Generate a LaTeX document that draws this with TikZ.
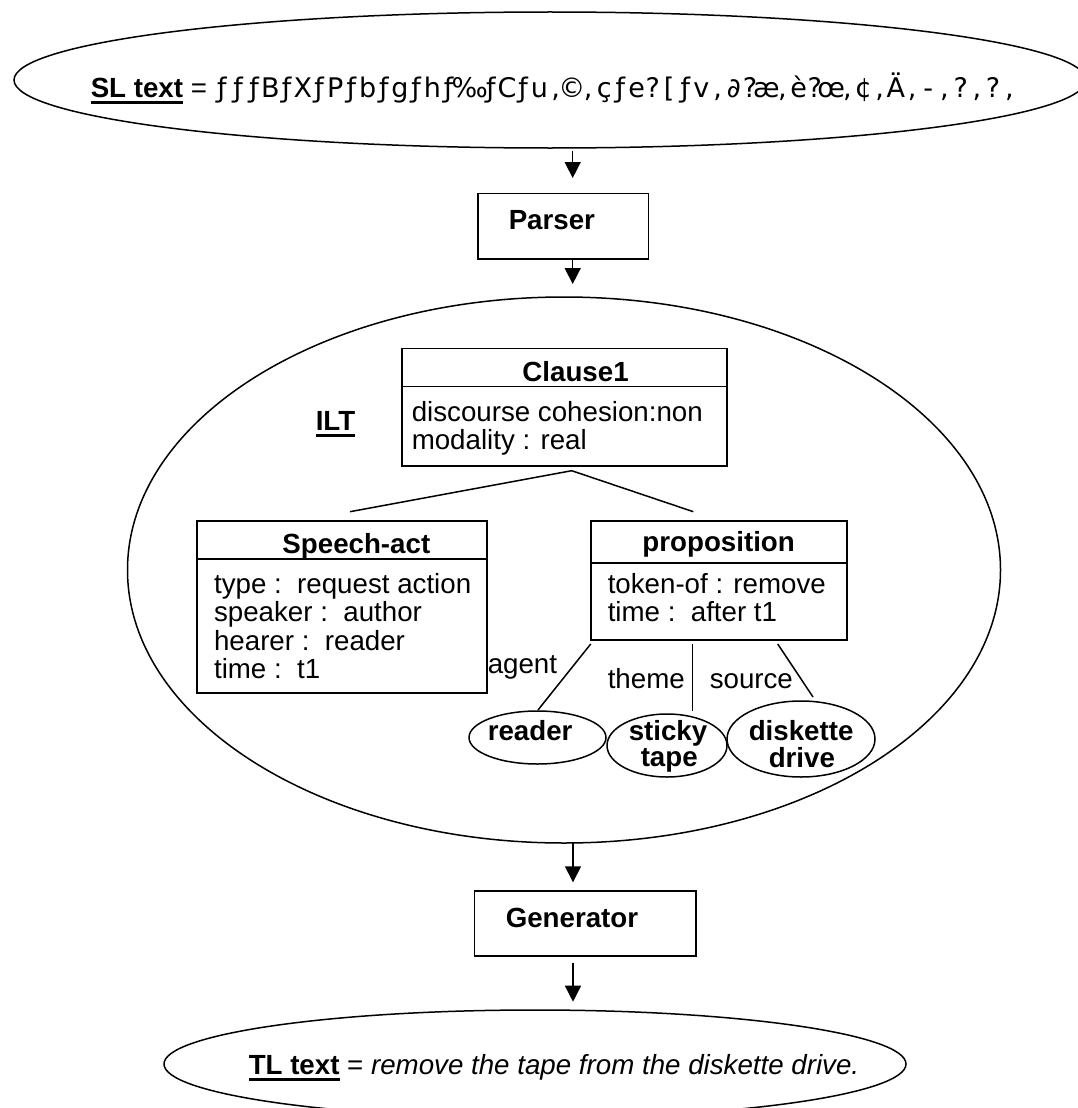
\documentclass[tikz,border=0pt]{standalone}
\usepackage{fontspec}
\setmainfont{Liberation Sans}
\newfontfamily\garblefont{DejaVu Sans}
\usetikzlibrary{arrows.meta,shapes.geometric}

% bold text with a heavy underline
\newcommand\ulbold[1]{\setbox0\hbox{\bfseries #1}\rlap{\rule[-7pt]{\wd0}{2.6pt}}\box0\relax}
% set every character of a string in an equal-width cell (wide cell for the per-mille sign)
\ExplSyntaxOn
\NewDocumentCommand\cells{m}{\tl_map_inline:nn{#1}{\str_if_eq:nnTF{##1}{‰}{\makebox[26pt]{##1}}{\makebox[16.2pt]{##1}}}}
\ExplSyntaxOff

\begin{document}
\begin{tikzpicture}[x=1pt,y=-1pt,
  font=\fontsize{27.7}{28.3}\selectfont,
  line width=1.5pt,
  box/.style={draw,rectangle,inner sep=0pt,line width=1.6pt},
  oval/.style={draw,ellipse,inner sep=0pt,line width=1.5pt},
  txt/.style={anchor=base west,inner sep=0pt},
  head/.style={txt,font=\fontsize{27.7}{28.3}\selectfont\bfseries},
  flow/.style={-{Triangle[width=16pt,length=16pt]},line width=1.5pt},
  link/.style={line width=1.5pt}]
\useasboundingbox (0,0) rectangle (1078,1108);
\clip (0,0) rectangle (1078,1108);
\fill[white] (0,0) rectangle (1078,1108);

% source-language text
\node[oval,minimum width=1072pt,minimum height=136pt] (sl) at (550,80) {};
\node[txt] (sllabel) at (90,97) {\ulbold{SL text} = };
\node[txt] (slstring) at (213,97) {\garblefont\fontsize{27}{28}\selectfont\cells{ƒƒƒBƒXƒPƒbƒgƒhƒ‰ƒCƒu,©,çƒe?[ƒv,∂?æ,è?œ,¢,Ä,-,?,?,}};

% parser
\node[box,minimum width=170.6pt,minimum height=65.7pt] (parser) at (563,226.15) {};
\node[head] (parsertext) at (508,229) {Parser};

% interlingual text
\node[oval,minimum width=873pt,minimum height=546pt] (ilt) at (564,570) {};
\node[txt] (iltlabel) at (315,430) {\ulbold{ILT}};

% Clause1 frame
\node[box,minimum width=325pt,minimum height=117.7pt] (clause) at (564.2,407.15) {};
\draw[link] ([yshift=-39pt]clause.north west) -- ([yshift=-39pt]clause.north east);
\node[head] (clausetitle) at (521.7,381.7) {Clause1};
\node[txt] (clause1) at (411,421.7) {discourse cohesion:non};
\node[txt] (clause2) at (411,449) {modality : real};

% Speech-act frame
\node[box,minimum width=290pt,minimum height=172pt] (speech) at (341.7,606.7) {};
\draw[link] ([yshift=-39.3pt]speech.north west) -- ([yshift=-39.3pt]speech.north east);
\node[head] (speechtitle) at (281.7,553) {Speech-act};
\node[txt] (speech1) at (213.3,593.3) {type :\ \ request action};
\node[txt] (speech2) at (213.3,621.7) {speaker :\ \ author};
\node[txt] (speech3) at (213.3,650) {hearer :\ \ reader};
\node[txt] (speech4) at (213.3,678.3) {time :\ \ t1};

% proposition frame
\node[box,minimum width=256pt,minimum height=119pt] (prop) at (718.7,580.5) {};
\draw[link] ([yshift=-43pt]prop.north west) -- ([yshift=-43pt]prop.north east);
\node[head] (proptitle) at (641.7,551.7) {proposition};
\node[txt] (prop1) at (607,593.3) {token-of : remove};
\node[txt] (prop2) at (607,621.7) {time :\ \ after t1};

% tree from Clause1 to its two parts
\coordinate (apex) at (571.7,470.7);
\coordinate (speechtop) at (350,511.7);
\coordinate (proptop) at (693.3,511.7);
\draw[link] (speechtop) -- (apex) -- (proptop);

% participants
\node[oval,minimum width=137pt,minimum height=53pt] (reader) at (537.5,737.5) {};
\node[head] (readertext) at (487,740) {reader};
\node[oval,minimum width=120pt,minimum height=63pt] (sticky) at (667,745.5) {};
\node[head] (stickytext1) at (628,740) {sticky};
\node[head] (stickytext2) at (640,766.7) {tape};
\node[oval,minimum width=148pt,minimum height=76pt] (disk) at (801,739) {};
\node[head] (disktext1) at (748,740) {diskette};
\node[head] (disktext2) at (768,767) {drive};

% role links
\coordinate (agenttop) at (590.7,644);
\coordinate (agentend) at (538,710);
\coordinate (themetop) at (692.7,644);
\coordinate (themeend) at (692.7,711);
\coordinate (sourcetop) at (777.7,644);
\coordinate (sourceend) at (813,697);
\draw[link] (agenttop) -- (agentend);
\draw[link] (themetop) -- (themeend);
\draw[link] (sourcetop) -- (sourceend);
\node[txt] (agentlabel) at (487,673.3) {agent};
\node[txt] (themelabel) at (607,688.3) {theme};
\node[txt] (sourcelabel) at (709,688.3) {source};

% generator
\node[box,minimum width=221.7pt,minimum height=65.3pt] (gen) at (585.15,923.35) {};
\node[head] (gentext) at (505,927.3) {Generator};

% target-language text
\node[oval,minimum width=742pt,minimum height=108pt] (tl) at (535,1064) {};
\node[txt] (tltext) at (248,1074) {\ulbold{TL text} = \itshape remove the tape from the diskette drive.};

% flow arrows
\coordinate (a1s) at (572.7,151);
\coordinate (a1e) at (572.7,178);
\coordinate (a2s) at (572.7,259);
\coordinate (a2e) at (572.7,284);
\coordinate (a3s) at (573,843);
\coordinate (a3e) at (573,882.3);
\coordinate (a4s) at (573,962.7);
\coordinate (a4e) at (573,1001.7);
\draw[flow] (a1s) -- (a1e);
\draw[flow] (a2s) -- (a2e);
\draw[flow] (a3s) -- (a3e);
\draw[flow] (a4s) -- (a4e);
\end{tikzpicture}
\end{document}
